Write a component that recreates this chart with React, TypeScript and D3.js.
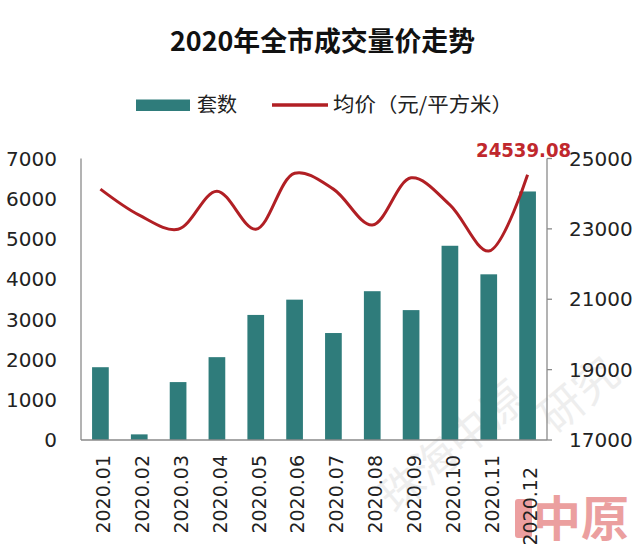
import React from "react";
import * as d3 from "d3";

const months = ["2020.01","2020.02","2020.03","2020.04","2020.05","2020.06","2020.07","2020.08","2020.09","2020.10","2020.11","2020.12"];
const units = [1810, 140, 1440, 2060, 3110, 3490, 2660, 3700, 3230, 4830, 4120, 6180];
const prices = [24130, 23390, 22990, 24070, 22990, 24580, 24130, 23110, 24450, 23680, 22370, 24539.08];
const leftTicks = [0, 1000, 2000, 3000, 4000, 5000, 6000, 7000];
const rightTicks = [17000, 19000, 21000, 23000, 25000];
const title = "2020年全市成交量价走势";
const legendBar = "套数";
const legendLine = "均价（元/平方米）";
const lastLabel = "24539.08";

const W = 643, H = 549;
const left = 81, right = 547, top = 158.5, bottom = 440;
const teal = "#2f7c7b";
const red = "#b11f24";
const axisFont = "'DejaVu Sans', Verdana, sans-serif";
const cjkFont = "'Noto Sans CJK SC', sans-serif";

export default function App() {
  const x = d3.scaleBand<string>().domain(months).range([left, right]).paddingInner(0.57).paddingOuter(0.285);
  const yL = d3.scaleLinear().domain([0, 7000]).range([bottom, top]);
  const yR = d3.scaleLinear().domain([17000, 25000]).range([bottom, top]);
  const cx = (m: string) => (x(m) as number) + x.bandwidth() / 2;
  const line = d3.line<number>()
    .x((_, i) => cx(months[i]))
    .y((d) => yR(d))
    .curve(d3.curveCatmullRom.alpha(0.5));
  const lastX = cx(months[months.length - 1]);

  return (
    <svg width={W} height={H} style={{ position: "absolute", left: 0, top: 0, background: "#fff" }}>
      <rect x={0} y={0} width={W} height={H} fill="#fff" />
      {/* watermark */}
      <g fill="#d6d6d6" opacity={0.4} fontFamily={cjkFont} fontSize={44}>
        <text transform="translate(395,515) rotate(-40)">珠海中原</text>
        <text transform="translate(555,435) rotate(-40)">研究</text>
      </g>
      {/* title */}
      <text x={322.5} y={51} textAnchor="middle" fontFamily={cjkFont} fontWeight="bold" fontSize={27}
        textLength={305} lengthAdjust="spacingAndGlyphs" fill="#111">{title}</text>
      {/* legend */}
      <rect x={136} y={99.5} width={54} height={11.5} fill={teal} />
      <text x={197} y={105} dy="0.36em" fontFamily={cjkFont} fontSize={20} fill="#222">{legendBar}</text>
      <line x1={272} x2={328} y1={105} y2={105} stroke={red} strokeWidth={3.5} />
      <text x={333} y={105} dy="0.36em" fontFamily={cjkFont} fontSize={20} fill="#222"
        textLength={180} lengthAdjust="spacingAndGlyphs">{legendLine}</text>
      {/* bars */}
      {units.map((v, i) => (
        <rect key={months[i]} x={x(months[i])} y={yL(v)} width={x.bandwidth()} height={bottom - yL(v)} fill={teal} />
      ))}
      {/* axes */}
      <line x1={left} x2={left} y1={top} y2={bottom} stroke="#8a8a8a" strokeWidth={1.3} />
      <line x1={right} x2={right} y1={top} y2={bottom} stroke="#8a8a8a" strokeWidth={1.3} />
      <line x1={left} x2={right} y1={bottom} y2={bottom} stroke="#8a8a8a" strokeWidth={1.3} />
      {leftTicks.map((t) => (
        <text key={t} x={57} y={yL(t)} dy="0.36em" textAnchor="end" fontFamily={axisFont} fontSize={20} fill="#222">{t}</text>
      ))}
      {rightTicks.map((t) => (
        <g key={t}>
          <line x1={right} x2={right + 5} y1={yR(t)} y2={yR(t)} stroke="#8a8a8a" strokeWidth={1.3} />
          <text x={569} y={yR(t)} dy="0.36em" textAnchor="start" fontFamily={axisFont} fontSize={20} fill="#222">{t}</text>
        </g>
      ))}
      {/* logo */}
      <rect x={515} y={499} width={17} height={39} rx={3} fill="#e57f80" opacity={0.75} />
      <text x={533} y={536} fontFamily={cjkFont} fontWeight="bold" fontSize={48} fill="#e57f80" opacity={0.75}>中原</text>
      {months.map((m, i) => (
        <text key={m} transform={`translate(${cx(m) + 3},${i === 11 ? 467 : 455}) rotate(-90)`} dy="0.36em" textAnchor="end"
          fontFamily={axisFont} fontSize={19} fill="#222">{m}</text>
      ))}
      {/* price line */}
      <path d={line(prices) || ""} fill="none" stroke={red} strokeWidth={3} />
      <text x={lastX - 4} y={157} textAnchor="middle" fontFamily={axisFont} fontWeight="bold" fontSize={19}
        textLength={95} lengthAdjust="spacingAndGlyphs" fill="#c0282d">{lastLabel}</text>
    </svg>
  );
}
